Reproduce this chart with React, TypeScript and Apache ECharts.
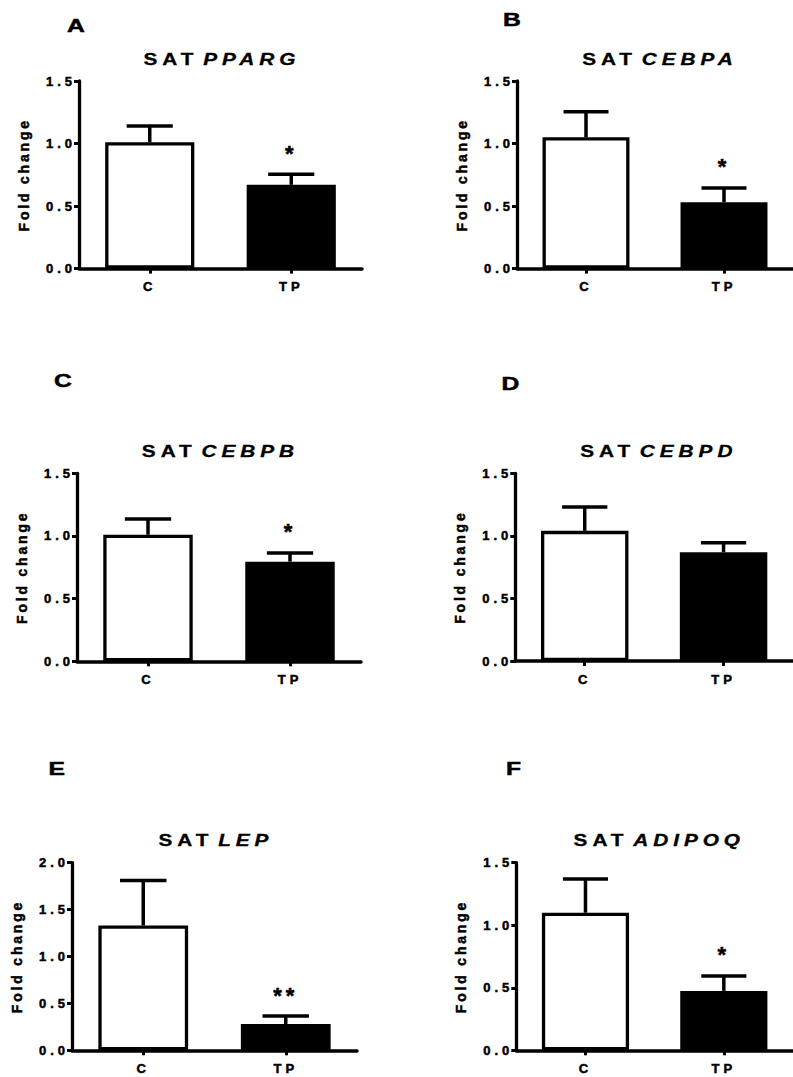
import React, { useEffect, useRef } from "react";
import * as echarts from "echarts";

// ---------- data ----------
const panelLetters = ["A", "B", "C", "D", "E", "F"];
const geneNames = ["PPARG", "CEBPA", "CEBPB", "CEBPD", "LEP", "ADIPOQ"];
const titlePrefix = "SAT";
const groups = ["C", "TP"];
const controlMean = [1.01, 1.05, 1.01, 1.04, 1.33, 1.1];
const controlSem = [0.13, 0.205, 0.125, 0.19, 0.48, 0.27];
const tpMean = [0.67, 0.53, 0.795, 0.87, 0.28, 0.475];
const tpSem = [0.085, 0.115, 0.07, 0.075, 0.085, 0.12];
const significance = ["*", "*", "*", "", "**", "*"];
const yMax = [1.5, 1.5, 1.5, 1.5, 2.0, 1.5];
const yStep = 0.5;
const yAxisTitle = "Fold change";

// ---------- layout (pixels) ----------
const gridBoxes = [
  { left: 79, top: 81, width: 283, height: 187.6 },
  { left: 517, top: 81, width: 283, height: 187.6 },
  { left: 77, top: 473.3, width: 284, height: 188 },
  { left: 515.3, top: 473.3, width: 284, height: 187.7 },
  { left: 72, top: 862.7, width: 285, height: 187.6 },
  { left: 516.3, top: 862.7, width: 283, height: 187.6 },
];
const letterSpots = [
  [76, 26],
  [512, 19.5],
  [63, 381],
  [510.5, 384],
  [56.7, 769],
  [513.5, 769],
];

const FAMILY = "Liberation Sans";
const fam = (sp: number) => `${FAMILY};letter-spacing:${sp}px`;
const STRETCH = 1.3;
const TITLE_SIZE = 16;
const TITLE_SP = 3.8;
const TITLE_GAP = 7.5;
const HEAVY = 0.5;

let measureCtx: CanvasRenderingContext2D | null = null;
function textWidth(text: string, font: string, spacing: number) {
  if (!measureCtx) measureCtx = document.createElement("canvas").getContext("2d");
  if (!measureCtx) return text.length * 10;
  measureCtx.font = font;
  return measureCtx.measureText(text).width + spacing * (text.length - 1);
}

function buildOption() {
  const grid = gridBoxes.map((g) => ({
    left: g.left,
    top: g.top,
    width: g.width,
    height: g.height,
    containLabel: false,
  }));

  const xAxis = gridBoxes.map((_, i) => ({
    type: "category",
    gridIndex: i,
    data: groups,
    axisLine: { show: true, lineStyle: { color: "#000", width: 3.5 } },
    axisTick: { show: true, alignWithLabel: true, length: 5, lineStyle: { color: "#000", width: 3 } },
    axisLabel: {
      color: "#000",
      fontSize: 13,
      fontWeight: "bold",
      fontFamily: fam(4),
      margin: 13,
      textBorderColor: "#000",
      textBorderWidth: HEAVY,
    },
    splitLine: { show: false },
  }));

  const yAxis = gridBoxes.map((_, i) => ({
    type: "value",
    gridIndex: i,
    min: 0,
    max: yMax[i],
    interval: yStep,
    axisLine: { show: true, lineStyle: { color: "#000", width: 3.3 } },
    axisTick: { show: true, length: 5, lineStyle: { color: "#000", width: 3 } },
    axisLabel: {
      color: "#000",
      fontSize: 13,
      fontWeight: "bold",
      fontFamily: fam(4),
      margin: 3,
      textBorderColor: "#000",
      textBorderWidth: HEAVY,
      formatter: (v: number) => v.toFixed(1),
    },
    splitLine: { show: false },
    name: yAxisTitle,
    nameLocation: "middle",
    nameRotate: 90,
    nameGap: 50,
    nameTextStyle: {
      color: "#000",
      fontSize: 14,
      fontWeight: "bold",
      fontFamily: fam(2.8),
      textBorderColor: "#000",
      textBorderWidth: HEAVY,
    },
  }));

  const series: any[] = [];
  gridBoxes.forEach((_, i) => {
    series.push({
      type: "bar",
      xAxisIndex: i,
      yAxisIndex: i,
      barWidth: "63%",
      silent: true,
      itemStyle: { borderColor: "#000", borderWidth: 3.3 },
      data: [
        { value: controlMean[i], itemStyle: { color: "#fff" } },
        { value: tpMean[i], itemStyle: { color: "#000" } },
      ],
    });
    series.push({
      type: "custom",
      xAxisIndex: i,
      yAxisIndex: i,
      silent: true,
      z: 5,
      encode: { x: 0, y: 1 },
      data: [
        [0, controlMean[i], controlSem[i]],
        [1, tpMean[i], tpSem[i]],
      ],
      renderItem: (params: any, api: any) => {
        const cat = api.value(0);
        const mean = api.value(1);
        const err = api.value(2);
        const base = api.coord([cat, mean]);
        const top = api.coord([cat, mean + err]);
        const catW = api.size([1, 0])[0];
        const half = catW * 0.163;
        const children: any[] = [
          {
            type: "line",
            shape: { x1: base[0], y1: base[1], x2: top[0], y2: top[1] },
            style: { stroke: "#000", lineWidth: 3.5 },
          },
          {
            type: "line",
            shape: { x1: top[0] - half, y1: top[1], x2: top[0] + half, y2: top[1] },
            style: { stroke: "#000", lineWidth: 3.5 },
          },
        ];
        const mark = significance[i];
        if (cat === 1 && mark) {
          children.push({
            type: "text",
            x: top[0],
            y: top[1] - 21,
            style: {
              text: mark,
              fill: "#000",
              stroke: "#000",
              lineWidth: HEAVY,
              fontSize: 22,
              fontWeight: "bold",
              fontFamily: fam(4),
              align: "center",
              verticalAlign: "middle",
              textAlign: "center",
              textVerticalAlign: "middle",
            },
          });
        }
        return { type: "group", children };
      },
    });
  });

  const elements: any[] = [];
  gridBoxes.forEach((g, i) => {
    elements.push({
      type: "text",
      x: letterSpots[i][0],
      y: letterSpots[i][1],
      scaleX: STRETCH,
      style: {
        text: panelLetters[i],
        fill: "#000",
        stroke: "#000",
        lineWidth: HEAVY,
        fontSize: 19,
        fontWeight: "bold",
        fontFamily: FAMILY,
        align: "center",
        verticalAlign: "middle",
        textAlign: "center",
        textVerticalAlign: "middle",
      },
    });
    const wPrefix = textWidth(titlePrefix, `bold ${TITLE_SIZE}px "${FAMILY}"`, TITLE_SP);
    const wGene = textWidth(geneNames[i], `italic bold ${TITLE_SIZE}px "${FAMILY}"`, TITLE_SP);
    const total = wPrefix + TITLE_GAP + wGene;
    const cx = g.left + g.width / 2 - 1;
    const cy = g.top - 22;
    const common = {
      fill: "#000",
      stroke: "#000",
      lineWidth: 0.3,
      fontSize: TITLE_SIZE,
      fontWeight: "bold",
      fontFamily: fam(TITLE_SP),
      align: "left",
      verticalAlign: "middle",
      textAlign: "left",
      textVerticalAlign: "middle",
    };
    elements.push({
      type: "group",
      x: cx,
      y: cy,
      scaleX: STRETCH,
      children: [
        { type: "text", x: -total / 2, y: 0, style: { ...common, text: titlePrefix } },
        {
          type: "text",
          x: -total / 2 + wPrefix + TITLE_GAP,
          y: 0,
          style: { ...common, text: geneNames[i], fontStyle: "italic" },
        },
      ],
    });
  });

  return {
    animation: false,
    backgroundColor: "#fff",
    grid,
    xAxis,
    yAxis,
    series,
    graphic: { elements },
  };
}

export default function App() {
  const ref = useRef<HTMLDivElement>(null);
  useEffect(() => {
    if (!ref.current) return;
    const chart = echarts.init(ref.current, undefined, { renderer: "svg" });
    chart.setOption(buildOption() as any);
    return () => chart.dispose();
  }, []);
  return (
    <div
      ref={ref}
      style={{ position: "absolute", left: 0, top: 0, width: 793, height: 1077, background: "#fff" }}
    />
  );
}
